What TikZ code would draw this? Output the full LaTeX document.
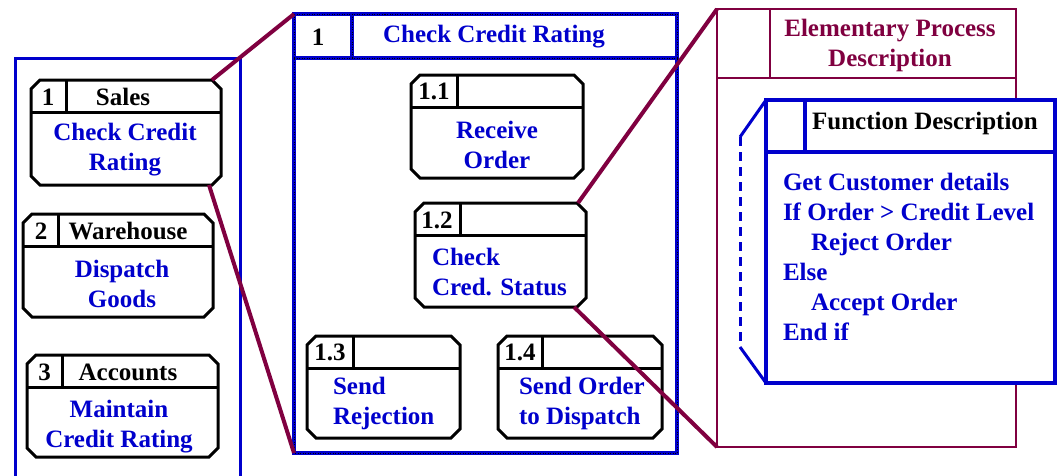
\documentclass[tikz,border=0pt]{standalone}
\usepackage{fontspec}
\setmainfont{Liberation Serif}
\definecolor{dfdblue}{RGB}{0,0,204}
\definecolor{dfdmaroon}{RGB}{128,0,64}
\tikzset{
  x=1pt, y=-1pt,
  every node/.style={font=\fontsize{25}{30}\selectfont\bfseries, inner sep=0pt, outer sep=0pt},
  slot/.style={draw=none, rectangle, inner sep=0pt, outer sep=0pt},
  procline/.style={draw=black, line width=3pt, line join=miter},
  bluetext/.style={text=dfdblue},
  maroontext/.style={text=dfdmaroon},
  link/.style={draw=dfdmaroon, line width=4pt},
  poolline/.style={draw=dfdblue, line width=3pt},
  levelframe/.style={draw=dfdblue, line width=3.5pt},
  levelstitch/.style={draw=black, line width=1pt, dash pattern=on 1pt off 1.5pt},
}
% chamfered process box with its header row and id cell
\newcommand\chbox[2]{%
  \draw[procline] ([xshift=9pt]#1.north west) -- ([xshift=-9pt]#1.north east)
    -- ([yshift=-9pt]#1.north east) -- ([yshift=9pt]#1.south east)
    -- ([xshift=-9pt]#1.south east) -- ([xshift=9pt]#1.south west)
    -- ([yshift=9pt]#1.south west) -- ([yshift=-9pt]#1.north west) -- cycle;
  \draw[procline] ([yshift=-32pt]#1.north west) -- ([yshift=-32pt]#1.north east);
  \draw[procline] ([xshift=#2pt]#1.north west) -- ([xshift=#2pt,yshift=-32pt]#1.north west);
}
% frame of the level-1 decomposition, drawn twice (blue, then black stitching)
\newcommand\levelpath[1]{%
  \draw[#1] (mid.north west) rectangle (mid.south east)
    ([yshift=-44pt]mid.north west) -- ([yshift=-44pt]mid.north east)
    ([xshift=58pt]mid.north west) -- ([xshift=58pt,yshift=-44pt]mid.north west);
}
\begin{document}
\begin{tikzpicture}
\fill[white] (0,0) rectangle (1060,475);
\useasboundingbox (0,0) rectangle (1060,475);

% left swimlane frame (open at the bottom)
\draw[poolline] (15,490) -- (15,58) -- (240,58) -- (240,490);

% top-level processes
\node[slot, minimum width=190, minimum height=105] (b1) at (126,132.5) {};
\chbox{b1}{35}
\node at (48,97) {1};
\node at (123,97) {Sales};
\node[bluetext, align=center] at (125,150) {Check Credit\\Rating};

\node[slot, minimum width=190, minimum height=103] (b2) at (118,265.5) {};
\chbox{b2}{35}
\node at (41,231) {2};
\node at (128,231) {Warehouse};
\node[bluetext, align=center] at (122,283.5) {Dispatch\\Goods};

\node[slot, minimum width=191, minimum height=102] (b3) at (122.5,406) {};
\chbox{b3}{35}
\node at (44.5,372) {3};
\node at (128,372) {Accounts};
\node[bluetext, align=center] at (119,427) {Maintain\\Credit Rating};

% decomposition of process 1
\node[slot, minimum width=383, minimum height=439] (mid) at (485.5,233.5) {};
\levelpath{levelframe}
\levelpath{levelstitch}
\node at (318,37) {1};
\node[bluetext] at (494,37) {Check Credit Rating};

\node[slot, minimum width=172, minimum height=103] (m11) at (497,126.5) {};
\chbox{m11}{46}
\node at (434,91) {1.1};
\node[bluetext, align=center] at (497,145) {Receive\\Order};

\node[slot, minimum width=171, minimum height=104] (m12) at (500.5,255) {};
\chbox{m12}{45}
\node at (437,220) {1.2};
\node[bluetext, align=left, anchor=west] at (432,272) {Check\\Cred. Status};

\node[slot, minimum width=153, minimum height=102] (m13) at (383.5,387) {};
\chbox{m13}{46}
\node at (330,352) {1.3};
\node[bluetext, align=left, anchor=west] at (333,403) {Send\\Rejection};

\node[slot, minimum width=164, minimum height=102] (m14) at (580,387) {};
\chbox{m14}{44}
\node at (520,352) {1.4};
\node[bluetext, align=left, anchor=west] at (519,403) {Send Order\\to Dispatch};

% elementary process description sheet
\node[slot, minimum width=299, minimum height=438] (epd) at (866.5,228) {};
\draw[draw=dfdmaroon, line width=2.5pt]
  (epd.north west) rectangle (epd.south east)
  ([yshift=-69pt]epd.north west) -- ([yshift=-69pt]epd.north east)
  ([xshift=53pt]epd.north west) -- ([xshift=53pt,yshift=-69pt]epd.north west);
\node[maroontext, align=center] at (890,45) {Elementary Process\\Description};

% function description card
\node[slot, fill=white, minimum width=289, minimum height=283] (fd) at (910.5,241.5) {};
\coordinate (fdtop) at (740,137);
\coordinate (fdbot) at (740,347);
\draw[draw=dfdblue, line width=4pt, line join=miter]
  (fd.north west) rectangle (fd.south east)
  ([yshift=-52pt]fd.north west) -- ([yshift=-52pt]fd.north east)
  ([xshift=39pt]fd.north west) -- ([xshift=39pt,yshift=-52pt]fd.north west);
\draw[draw=dfdblue, line width=3pt] (fd.north west) -- (fdtop);
\draw[draw=dfdblue, line width=3pt, dash pattern=on 9pt off 6pt] (fdtop) -- (fdbot);
\draw[draw=dfdblue, line width=3pt] (fdbot) -- (fd.south west);
\node at (925,123) {Function Description};
\node[bluetext, align=left, anchor=north west] at (783,173)
  {Get Customer details\\If Order > Credit Level\\\hspace*{28pt}Reject Order\\Else\\\hspace*{28pt}Accept Order\\End if};

% explosion links
\draw[link] ([xshift=-9pt]b1.north east) -- (mid.north west);
\draw[link] ([xshift=-12pt]b1.south east) -- (mid.south west);
\draw[link] ([xshift=-8pt]m12.north east) -- (epd.north west);
\draw[link] ([xshift=-12pt]m12.south east) -- (epd.south west);
\end{tikzpicture}
\end{document}
